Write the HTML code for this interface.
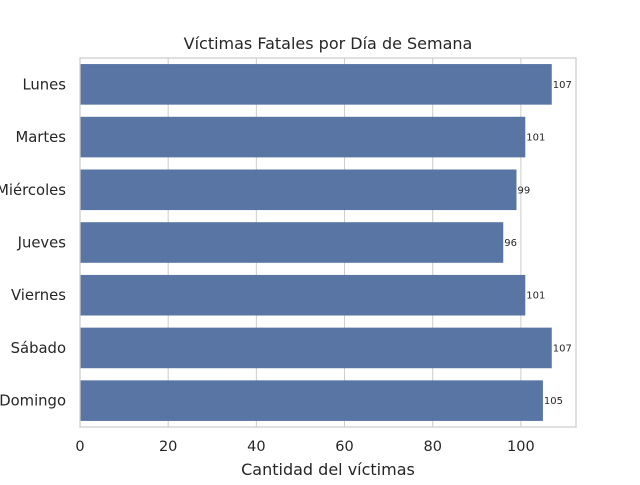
<!DOCTYPE html>
<html><head><meta charset="utf-8"><style>
body{margin:0;background:#fff;font-family:"Liberation Sans","DejaVu Sans",sans-serif;}
</style></head><body>
<svg id="chart" width="640" height="480" style="font-family:'DejaVu Sans','Liberation Sans',sans-serif"></svg>
<script>
const categories=["Lunes","Martes","Miércoles","Jueves","Viernes","Sábado","Domingo"];
const values=[107,101,99,96,101,107,105];
const xTicks=[0,20,40,60,80,100];
const L=80,R=576,T=58,B=427,xMax=112.5;
const svg=document.getElementById('chart');
const NS='http://www.w3.org/2000/svg';
function x(v){return L+v/xMax*(R-L);}
const band=(B-T)/categories.length;
const bw=0.77;
function y(i){return T+band*i+band*(1-bw)/2;}
function mk(tag,attrs,txt){const e=document.createElementNS(NS,tag);for(const k in attrs)e.setAttribute(k,attrs[k]);if(txt!==undefined)e.textContent=txt;svg.appendChild(e);return e;}
xTicks.forEach(t=>{
 const g=mk('line',{x1:x(t),x2:x(t),y1:T,y2:B,stroke:'#cccccc','stroke-width':1});
 
 
 const l=mk('text',{x:x(t),y:B+24,'text-anchor':'middle','font-size':14.5,fill:'#262626'},t);
 
 
});
categories.forEach((c,i)=>{
 const r=mk('rect',{x:x(0),y:y(i),width:x(values[i])-x(0),height:band*bw,fill:'#5875a4'});
 
 
 const v=mk('text',{x:x(values[i])+1,y:y(i)+band*bw/2+3.5,'font-size':10,fill:'#262626'},values[i]);
 
 
 const l=mk('text',{x:L-14,y:y(i)+band*bw/2+5,'text-anchor':'end','font-size':14.8,fill:'#262626'},c);
 
 
});
const f=mk('rect',{x:L,y:T,width:R-L,height:B-T,fill:'none',stroke:'#cccccc','stroke-width':1.25});


const t=mk('text',{x:(L+R)/2,y:49,'text-anchor':'middle','font-size':16,fill:'#262626'},'Víctimas Fatales por Día de Semana');


const xt=mk('text',{x:(L+R)/2,y:475,'text-anchor':'middle','font-size':16,fill:'#262626'},'Cantidad del víctimas');


</script>
</body></html>
